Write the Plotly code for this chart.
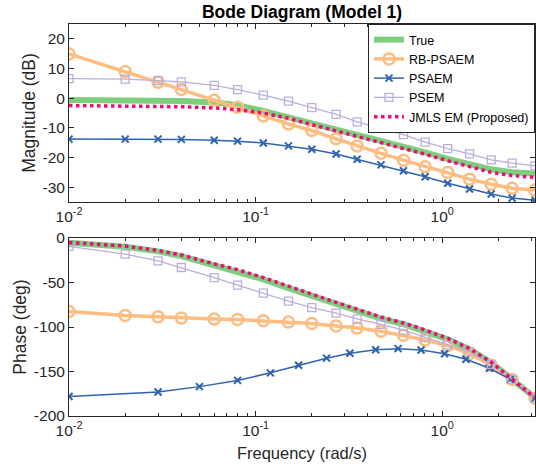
import plotly.graph_objects as go

# ---------------- data ----------------
w = [0.01, 0.02, 0.03, 0.04, 0.06, 0.08, 0.11, 0.15, 0.2, 0.27, 0.35, 0.47,
     0.62, 0.81, 1.07, 1.4, 1.83, 2.37, 3.14]
w_true = [0.01, 0.02, 0.03, 0.04, 0.06, 0.08, 0.11, 0.15, 0.2, 0.27, 0.35, 0.47,
          0.62, 0.81, 1.07, 1.4, 1.83, 2.37, 2.8, 3.14]

mag_true = [-0.6, -0.7, -0.8, -1.0, -1.5, -2.4, -4.3, -6.3, -8.5, -10.6, -12.4, -14.3,
            -16.2, -18.3, -20.5, -22.5, -24.0, -25.0, -25.3, -25.4]
mag_rb = [14.9, 9.0, 5.4, 2.9, -0.7, -3.1, -6.0, -8.7, -10.9, -13.7, -16.1, -18.6,
          -20.9, -23.1, -25.1, -27.3, -29.0, -30.4, -31.0]
mag_psaem = [-13.8, -13.8, -13.8, -13.9, -14.2, -14.5, -15.1, -16.1, -17.2, -18.8, -20.6,
             -22.5, -24.5, -26.5, -28.7, -30.6, -32.3, -33.7, -34.4]
mag_psem = [6.6, 6.4, 5.9, 5.5, 4.3, 2.9, 1.0, -1.0, -3.2, -5.5, -8.0, -10.1,
            -12.3, -14.8, -17.0, -18.8, -20.8, -21.9, -22.8]
mag_jmls = [-2.5, -2.6, -2.7, -2.9, -3.3, -3.9, -5.0, -6.8, -8.9, -11.0, -12.9, -14.8,
            -16.8, -18.9, -21.1, -23.1, -25.0, -26.1, -26.5, -26.7]

ph_true = [-5.3, -9.8, -15.0, -20.3, -30.8, -37.5, -46.5, -56.3, -65.0, -74.3, -81.9,
           -90.5, -96.8, -104.4, -113.8, -125.0, -140.0, -158.8, -171.2, -179.5]
ph_jmls = [-5.0, -9.0, -14.0, -19.0, -29.0, -35.5, -44.5, -54.3, -63.0, -72.3, -80.0,
           -88.8, -95.5, -103.2, -112.8, -124.3, -139.5, -158.5, -171.0, -179.5]
ph_rb = [-82.6, -87.1, -88.6, -89.8, -90.9, -91.6, -92.9, -94.3, -96.1, -98.8, -101.0,
         -104.8, -109.3, -114.5, -121.0, -130.0, -143.0, -159.0, -180.0]
ph_psem = [-9.4, -18.1, -25.6, -33.1, -44.5, -53.0, -62.0, -71.0, -78.1, -84.5, -90.9,
           -96.9, -103.6, -111.9, -120.0, -128.0, -141.9, -158.8, -180.0]
w_psaem_ph = [0.01, 0.03, 0.05, 0.08, 0.12, 0.17, 0.24, 0.32, 0.44, 0.58, 0.77, 1.03,
              1.34, 1.79, 2.32, 3.14]
ph_psaem = [-178.0, -173.0, -167.0, -160.0, -151.5, -143.0, -135.0, -129.5, -125.5,
            -124.3, -125.8, -130.0, -136.3, -146.4, -158.8, -180.0]

xtick_vals = [0.01, 0.1, 1]
xtick_text = ["10<sup>-2</sup>", "10<sup>-1</sup>", "10<sup>0</sup>"]
minor_vals = [0.02, 0.03, 0.04, 0.05, 0.06, 0.07, 0.08, 0.09,
              0.2, 0.3, 0.4, 0.5, 0.6, 0.7, 0.8, 0.9, 2, 3]
mag_ticks = [-30, -20, -10, 0, 10, 20]
mag_labels = ["-30", "-20", "-10", "0", "10", "20"]
ph_ticks = [-200, -150, -100, -50, 0]
ph_labels = ["-200", "-150", "-100", "-50", "0"]

# ---------------- styles ----------------
C_TRUE = "#7dce7d"
C_RB = "#fdbd80"
C_PSAEM = "#2e63ad"
C_PSEM = "#bcaedb"
C_JMLS = "#ee0a7a"

series = [
    dict(name="True", xm=w_true, m=mag_true, xp=w_true, p=ph_true,
         line=dict(color=C_TRUE, width=6), mode="lines", marker=None),
    dict(name="RB-PSAEM", xm=w, m=mag_rb, xp=w, p=ph_rb,
         line=dict(color=C_RB, width=3.5), mode="lines+markers",
         marker=dict(symbol="circle-open", size=11, color=C_RB, line=dict(width=2.5, color=C_RB))),
    dict(name="PSAEM", xm=w, m=mag_psaem, xp=w_psaem_ph, p=ph_psaem,
         line=dict(color=C_PSAEM, width=1.5), mode="lines+markers",
         marker=dict(symbol="x-thin-open", size=7, color=C_PSAEM, line=dict(width=2, color=C_PSAEM))),
    dict(name="PSEM", xm=w, m=mag_psem, xp=w, p=ph_psem,
         line=dict(color=C_PSEM, width=1.3), mode="lines+markers",
         marker=dict(symbol="square-open", size=8, color=C_PSEM, line=dict(width=1.3, color=C_PSEM))),
    dict(name="JMLS EM (Proposed)", xm=w_true, m=mag_jmls, xp=w_true, p=ph_jmls,
         line=dict(color=C_JMLS, width=3.5, dash="dot"), mode="lines", marker=None),
]

fig = go.Figure()
for s in series:
    kw = dict(mode=s["mode"], line=s["line"], name=s["name"], legendgroup=s["name"])
    if s["marker"] is not None:
        kw["marker"] = s["marker"]
    fig.add_trace(go.Scatter(x=s["xm"], y=s["m"], xaxis="x", yaxis="y", showlegend=True, **kw))
    fig.add_trace(go.Scatter(x=s["xp"], y=s["p"], xaxis="x2", yaxis="y2", showlegend=False, **kw))

FONT = "Liberation Sans, Arial, sans-serif"
TXT = "#262626"
axis_common = dict(
    showline=True, linecolor=TXT, linewidth=1, mirror="allticks",
    ticks="inside", ticklen=5, tickcolor=TXT, tickwidth=1,
    showgrid=False, zeroline=False, automargin=False,
    tickfont=dict(family=FONT, size=15.5, color=TXT),
)
xrange = [-2, 0.4971]
xaxis_common = dict(
    axis_common, type="log", range=xrange, tickvals=xtick_vals, ticktext=xtick_text,
    minor=dict(tickvals=minor_vals, ticks="inside", ticklen=3, tickcolor=TXT, showgrid=False),
)
ytitle_font = dict(family=FONT, size=17.5, color=TXT)
xtitle_font = dict(family=FONT, size=16.5, color=TXT)

fig.update_layout(
    template="none",
    width=536, height=472,
    margin=dict(l=69, r=1, t=24, b=56, autoexpand=False),
    paper_bgcolor="white", plot_bgcolor="white",
    font=dict(family=FONT, size=15, color=TXT),
    title=dict(text="<b>Bode Diagram (Model 1)</b>", x=0.5635, xanchor="center",
               y=0.975, yanchor="middle", automargin=False,
               font=dict(family=FONT, size=17.5, color="black")),
    xaxis=dict(xaxis_common, domain=[0, 1], anchor="y"),
    yaxis=dict(axis_common, domain=[0.546, 1], anchor="x", range=[-35, 25],
               tickvals=mag_ticks, ticktext=mag_labels,
               title=dict(text="Magnitude (dB)", font=ytitle_font, standoff=2)),
    xaxis2=dict(xaxis_common, domain=[0, 1], anchor="y2",
                title=dict(text="Frequency (rad/s)", font=xtitle_font, standoff=9)),
    yaxis2=dict(axis_common, domain=[0, 0.454], anchor="x2", range=[-200, 0],
                tickvals=ph_ticks, ticktext=ph_labels,
                title=dict(text="Phase (deg)", font=ytitle_font, standoff=2)),
    legend=dict(x=1, y=1, xanchor="right", yanchor="top", bgcolor="white",
                bordercolor=TXT, borderwidth=1,
                font=dict(family=FONT, size=12.5, color="black"),
                tracegroupgap=0, itemwidth=30),
)

fig.write_html(
    "out.html",
    config={"displayModeBar": False},
    post_script="document.body.style.margin='0';document.body.style.padding='0';",
)
